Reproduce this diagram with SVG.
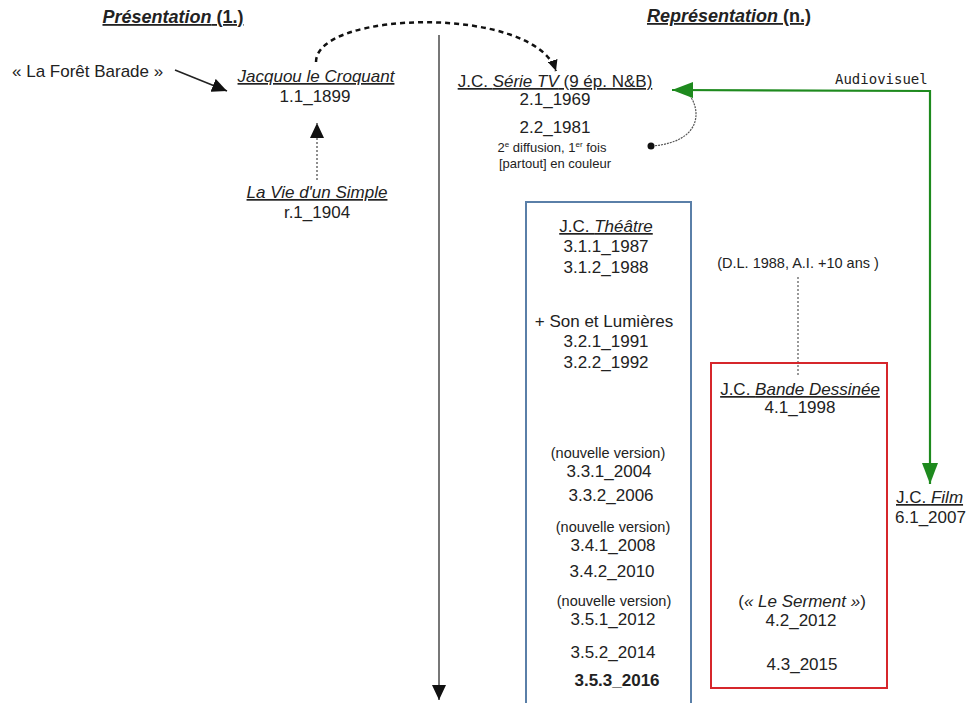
<svg xmlns="http://www.w3.org/2000/svg" width="966" height="703" viewBox="0 0 966 703">
<style>
text{font-family:"Liberation Sans",Arial,sans-serif;font-size:17px;fill:#222}
.c{text-anchor:middle}
.u{text-decoration:underline}
.i{font-style:italic}
.t{font-size:18px;font-weight:bold}
.s{font-size:14.5px}
.xs{font-size:13px}
.mono{font-family:"DejaVu Sans Mono","Liberation Mono",monospace;font-size:14px}
.box{fill:none;stroke-width:2}
</style>
<defs>
<marker id="ah" markerUnits="userSpaceOnUse" markerWidth="16" markerHeight="14" refX="15" refY="7" orient="auto">
<path d="M0,0 L15,7 L0,14 z" fill="#111"/>
</marker>
<marker id="ahs" markerUnits="userSpaceOnUse" markerWidth="12" markerHeight="10" refX="11" refY="5" orient="auto">
<path d="M0,0 L11,5 L0,10 z" fill="#111"/>
</marker>
<marker id="ag" markerUnits="userSpaceOnUse" markerWidth="22" markerHeight="16" refX="21" refY="8" orient="auto">
<path d="M0,0 L21,8 L0,16 z" fill="#1e8a1e"/>
</marker>
</defs>

<g id="titles">
<text class="c t u" x="173" y="23"><tspan font-style="italic">Présentation</tspan> (1.)</text>
<text class="c t u" x="729" y="22"><tspan font-style="italic">Représentation</tspan> (n.)</text>
</g>

<g id="connectors">
<line x1="439" y1="35" x2="439" y2="700" stroke="#777" stroke-width="2" marker-end="url(#ah)"/>
<line x1="175" y1="70" x2="227" y2="91" stroke="#222" stroke-width="1.6" marker-end="url(#ah)"/>
<line x1="317" y1="180" x2="317" y2="123" stroke="#444" stroke-width="1.2" stroke-dasharray="2,2" marker-end="url(#ah)"/>
<path d="M316,62 C316,10 535,5 556,71" fill="none" stroke="#111" stroke-width="2.5" stroke-dasharray="5,4" marker-end="url(#ahs)"/>
<path d="M688,93 C702,110 702,142 652,146" fill="none" stroke="#555" stroke-width="1.2" stroke-dasharray="2,1"/>
<circle cx="651" cy="146" r="3.5" fill="#111"/>
<polyline points="930,90 930,484" fill="none" stroke="#1e8a1e" stroke-width="2.2" marker-end="url(#ag)"/>
<polyline points="930,91 672,90" fill="none" stroke="#1e8a1e" stroke-width="2.2" marker-end="url(#ag)"/>
<line x1="798" y1="277" x2="798" y2="375" stroke="#555" stroke-width="1.2" stroke-dasharray="2,2"/>
</g>

<g id="foret">
<text x="12" y="77">« La Forêt Barade »</text>
</g>

<g id="jacquou">
<text class="c u i" x="316" y="82">Jacquou le Croquant</text>
<text class="c" x="315" y="102">1.1_1899</text>
</g>

<g id="vie">
<text class="c u i" x="317" y="198">La Vie d'un Simple</text>
<text class="c" x="317" y="218">r.1_1904</text>
</g>

<g id="serie">
<text class="c u" x="555" y="87">J.C. <tspan font-style="italic">Série TV</tspan> (9 ép. N&amp;B)</text>
<text class="c" x="555" y="105">2.1_1969</text>
<text class="c" x="555" y="133">2.2_1981</text>
<text class="c xs" x="552" y="152">2<tspan font-size="8" dy="-5">e</tspan><tspan dy="5"> diffusion, 1</tspan><tspan font-size="8" dy="-5">er</tspan><tspan dy="5"> fois</tspan></text>
<text class="c xs" x="555" y="168">[partout] en couleur</text>
</g>

<g id="audiovisuel">
<text class="mono" x="835" y="84">Audiovisuel</text>
</g>

<g id="theatre">
<rect class="box" x="526" y="202" width="165" height="520" stroke="#5a7fa8"/>
<text class="c u" x="606" y="232">J.C. <tspan font-style="italic">Théâtre</tspan></text>
<text class="c" x="606" y="252">3.1.1_1987</text>
<text class="c" x="606" y="273">3.1.2_1988</text>
<text class="c" x="604" y="327">+ Son et Lumières</text>
<text class="c" x="606" y="347">3.2.1_1991</text>
<text class="c" x="606" y="368">3.2.2_1992</text>
<text class="c s" x="608" y="458">(nouvelle version)</text>
<text class="c" x="609" y="477">3.3.1_2004</text>
<text class="c" x="611" y="501">3.3.2_2006</text>
<text class="c s" x="613" y="532">(nouvelle version)</text>
<text class="c" x="613" y="551">3.4.1_2008</text>
<text class="c" x="612" y="577">3.4.2_2010</text>
<text class="c s" x="614" y="606">(nouvelle version)</text>
<text class="c" x="613" y="625">3.5.1_2012</text>
<text class="c" x="613" y="658">3.5.2_2014</text>
<text class="c" x="617" y="686" font-weight="bold" font-size="16">3.5.3_2016</text>
</g>

<g id="dl">
<text class="c s" x="798" y="268">(D.L. 1988, A.I. +10 ans )</text>
</g>

<g id="bd">
<rect class="box" x="711" y="363" width="176" height="325" stroke="#d6262b"/>
<text class="c u" x="800" y="395">J.C. <tspan font-style="italic">Bande Dessinée</tspan></text>
<text class="c" x="800" y="413">4.1_1998</text>
<text class="c" x="802" y="607">(<tspan font-style="italic">« Le Serment »</tspan>)</text>
<text class="c" x="801" y="626">4.2_2012</text>
<text class="c" x="802" y="670">4.3_2015</text>
</g>

<g id="film">
<text class="u" x="896" y="503">J.C. <tspan font-style="italic">Film</tspan></text>
<text x="895" y="523">6.1_2007</text>
</g>
</svg>
